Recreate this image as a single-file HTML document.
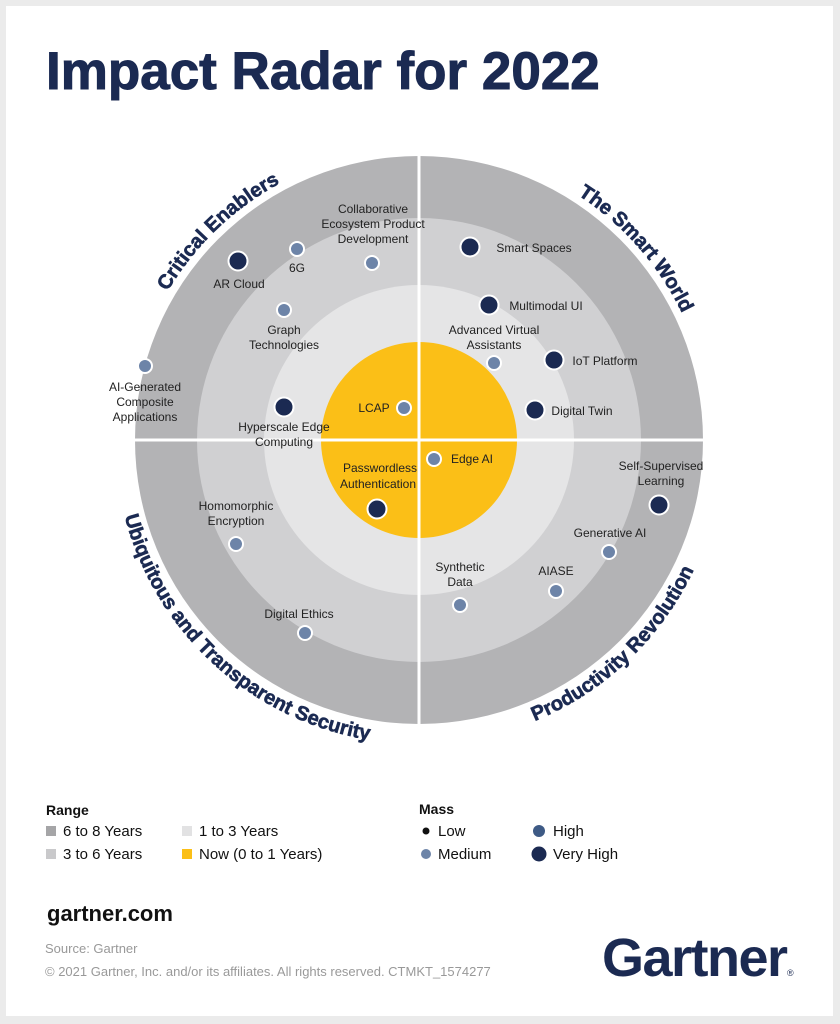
<!DOCTYPE html>
<html><head><meta charset="utf-8">
<style>
html,body{margin:0;padding:0;background:#ebebeb;}
body{width:840px;height:1024px;position:relative;overflow:hidden;font-family:"Liberation Sans",sans-serif;}
.page{position:absolute;left:6px;top:6px;width:827px;height:1010px;background:#fff;}
svg{position:absolute;left:0;top:0;}
</style></head><body>
<div class="page"></div>
<svg width="840" height="1024" viewBox="0 0 840 1024" font-family="Liberation Sans, sans-serif">
<text x="46" y="89" font-size="53" font-weight="bold" fill="#1b2a52" stroke="#1b2a52" stroke-width="1">Impact Radar for 2022</text>
<circle cx="419" cy="440" r="284" fill="#b3b3b5"/>
<circle cx="419" cy="440" r="222" fill="#d0d0d2"/>
<circle cx="419" cy="440" r="155" fill="#e5e5e6"/>
<circle cx="419" cy="440" r="98" fill="#fbbf17"/>
<line x1="419" y1="150" x2="419" y2="730" stroke="#fff" stroke-width="3"/>
<line x1="130" y1="440" x2="708" y2="440" stroke="#fff" stroke-width="3"/>
<defs>
<path id="top" d="M127,440 A292,292 0 1 1 711,440 A292,292 0 1 1 127,440"/>
<path id="bot" d="M115,440 A304,304 0 1 0 723,440 A304,304 0 1 0 115,440"/>
</defs>
<g font-size="20" font-weight="bold" fill="#1b2a52" stroke="#1b2a52" stroke-width="0.6" text-anchor="middle">
<text><textPath href="#top" startOffset="12.8%">Critical Enablers</textPath></text>
<text><textPath href="#top" startOffset="38.5%">The Smart World</textPath></text>
<text><textPath href="#bot" startOffset="13.2%">Ubiquitous and Transparent Security</textPath></text>
<text><textPath href="#bot" startOffset="37.1%">Productivity Revolution</textPath></text>
</g>
<g stroke="#fff" stroke-width="2">
<g fill="#1b2a52">
<circle cx="238" cy="261" r="9.5"/><circle cx="470" cy="247" r="9.5"/><circle cx="489" cy="305" r="9.5"/>
<circle cx="554" cy="360" r="9.5"/><circle cx="535" cy="410" r="9.5"/><circle cx="284" cy="407" r="9.5"/>
<circle cx="377" cy="509" r="9.5"/><circle cx="659" cy="505" r="9.5"/>
</g>
<g fill="#6d84a8">
<circle cx="297" cy="249" r="7"/><circle cx="372" cy="263" r="7"/><circle cx="284" cy="310" r="7"/>
<circle cx="145" cy="366" r="7"/><circle cx="494" cy="363" r="7"/><circle cx="404" cy="408" r="7"/>
<circle cx="434" cy="459" r="7"/><circle cx="236" cy="544" r="7"/><circle cx="305" cy="633" r="7"/>
<circle cx="460" cy="605" r="7"/><circle cx="556" cy="591" r="7"/><circle cx="609" cy="552" r="7"/>
</g>
</g>
<g font-size="12" fill="#222" text-anchor="middle">
<text x="373" y="213">Collaborative</text><text x="373" y="228">Ecosystem Product</text><text x="373" y="243">Development</text>
<text x="297" y="272">6G</text>
<text x="239" y="288">AR Cloud</text>
<text x="284" y="334">Graph</text><text x="284" y="349">Technologies</text>
<text x="145" y="391">AI-Generated</text><text x="145" y="406">Composite</text><text x="145" y="421">Applications</text>
<text x="284" y="431">Hyperscale Edge</text><text x="284" y="446">Computing</text>
<text x="374" y="412">LCAP</text>
<text x="380" y="472">Passwordless</text><text x="378" y="488">Authentication</text>
<text x="472" y="463">Edge AI</text>
<text x="494" y="334">Advanced Virtual</text><text x="494" y="349">Assistants</text>
<text x="534" y="252">Smart Spaces</text>
<text x="546" y="310">Multimodal UI</text>
<text x="605" y="365">IoT Platform</text>
<text x="582" y="415">Digital Twin</text>
<text x="661" y="470">Self-Supervised</text><text x="661" y="485">Learning</text>
<text x="610" y="537">Generative AI</text>
<text x="556" y="575">AIASE</text>
<text x="460" y="571">Synthetic</text><text x="460" y="586">Data</text>
<text x="236" y="510">Homomorphic</text><text x="236" y="525">Encryption</text>
<text x="299" y="618">Digital Ethics</text>
</g>
<g font-size="15" fill="#111">
<text x="46" y="815" font-weight="bold" font-size="14">Range</text>
<rect x="46" y="826" width="10" height="10" fill="#a5a5a7"/><text x="63" y="836">6 to 8 Years</text>
<rect x="46" y="849" width="10" height="10" fill="#c9c9cb"/><text x="63" y="859">3 to 6 Years</text>
<rect x="182" y="826" width="10" height="10" fill="#e2e2e3"/><text x="199" y="836">1 to 3 Years</text>
<rect x="182" y="849" width="10" height="10" fill="#fbbf17"/><text x="199" y="859">Now (0 to 1 Years)</text>
<text x="419" y="814" font-weight="bold" font-size="14">Mass</text>
<circle cx="426" cy="831" r="3.5" fill="#111"/><text x="438" y="836">Low</text>
<circle cx="426" cy="854" r="5" fill="#6d84a8"/><text x="438" y="859">Medium</text>
<circle cx="539" cy="831" r="6" fill="#3e5a85"/><text x="553" y="836">High</text>
<circle cx="539" cy="854" r="7.5" fill="#1b2a52"/><text x="553" y="859">Very High</text>
</g>
<text x="47" y="921" font-size="22" font-weight="bold" fill="#111">gartner.com</text>
<text x="45" y="953" font-size="13" fill="#999">Source: Gartner</text>
<text x="45" y="976" font-size="13" fill="#999">© 2021 Gartner, Inc. and/or its affiliates. All rights reserved. CTMKT_1574277</text>
<text x="602" y="976" font-size="54" font-weight="bold" fill="#1b2a52" letter-spacing="-1.5">Gartner</text>
<text x="787" y="976" font-size="9" fill="#1b2a52">®</text>
</svg>
</body></html>
